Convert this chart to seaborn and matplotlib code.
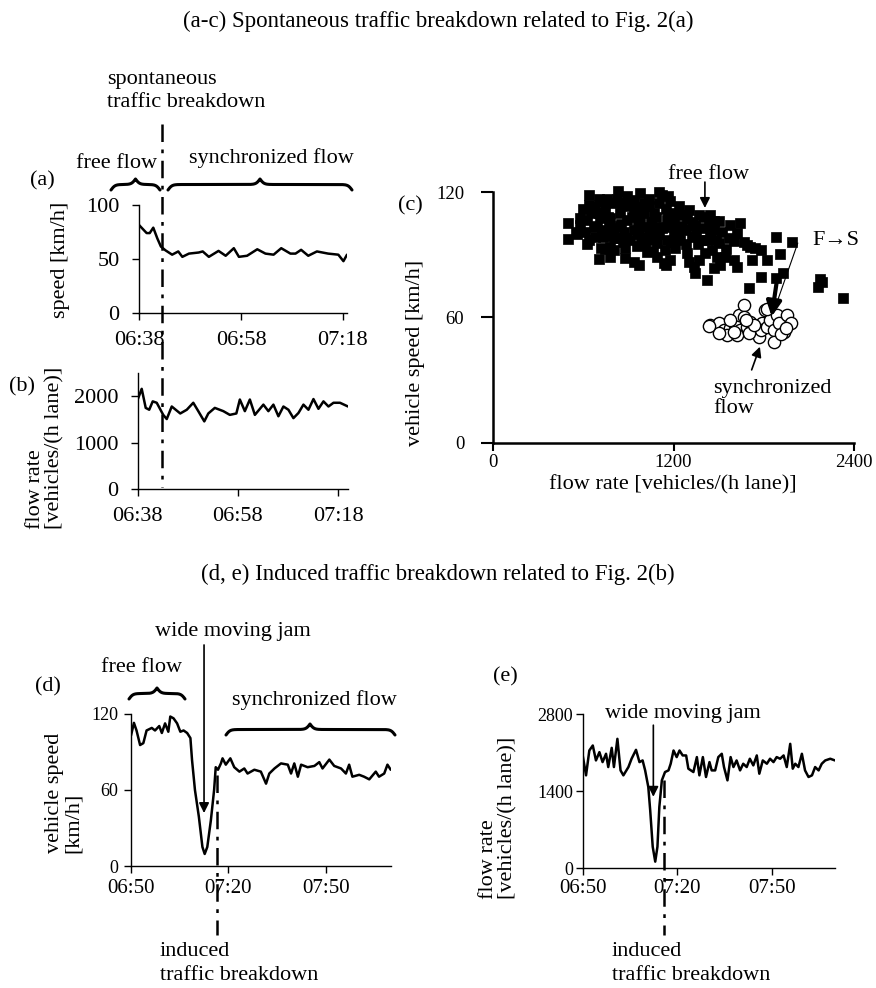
import numpy as np
import matplotlib
matplotlib.use("Agg")
import matplotlib.pyplot as plt
import seaborn as sns
from matplotlib.lines import Line2D
import matplotlib.transforms as mtransforms

# ---------------- data ----------------
# (a) speed, minutes after 06:38
t_a = [0, 1.5, 2.1, 2.8, 3.6, 4.3, 5.2, 6.5, 7.7, 8.5, 9.8, 11.7, 12.5, 13.7, 15.6, 17.0,
       18.6, 19.6, 21.2, 23.2, 24.8, 26.4, 27.9, 29.7, 30.7, 31.8, 33.2, 34.9, 37.1, 39.1, 40.1, 40.8]
v_a = [81.5, 74, 74, 79, 69, 61.5, 58, 54, 57, 52, 55, 56, 57, 52, 57.5, 53,
       60, 52, 53, 59, 55, 54, 60, 55, 55, 58.5, 53, 57, 55, 54, 48, 54]
# (b) flow rate, minutes after 06:38
t_b = [0, 0.8, 1.6, 2.3, 3.0, 3.8, 5.1, 5.8, 6.8, 8.5, 9.8, 11.1, 12.1, 13.3, 14.1, 15.4, 17.1,
       18.4, 19.7, 20.4, 21.4, 22.4, 23.4, 25.1, 26.1, 27.1, 28.1, 29.1, 30.1, 31.1, 32.1, 33.1,
       34.1, 35.1, 36.1, 37.1, 38.1, 39.1, 40.4, 42.0]
q_b = [1930, 2160, 1750, 1710, 1890, 1860, 1600, 1510, 1780, 1630, 1710, 1860, 1680, 1460, 1630, 1750, 1680,
       1600, 1630, 1930, 1680, 1930, 1600, 1820, 1680, 1820, 1570, 1780, 1710, 1530, 1640, 1820,
       1710, 1940, 1730, 1890, 1780, 1860, 1860, 1780]
ticks_ab = [0, 20, 40]
ticklabels_ab = ["06:38", "06:58", "07:18"]
breakdown_a = 4.5

# (c) flow-speed plane
free_flow_pts = [
    (496, 105.2), (496, 97.5), (551, 101), (578, 107.6), (622, 95), (640, 118.8), (700, 116.7),
    (700, 88), (718, 93.5), (778, 89.2), (878, 88.4), (967, 85), (1151, 85.2), (1422, 78),
    (1344, 81.2), (1640, 105.5), (1700, 74), (1778, 79.3), (1878, 78.8), (1884, 98.8), (1989, 96),
    (1907, 90.5), (1927, 81.5), (2173, 78.4), (2189, 77.2), (2160, 74.8), (2329, 69.5), (1822, 87.6),
    (1778, 92.4), (1711, 94), (1622, 100.4), (1667, 96.4), (1722, 87.6), (1600, 87.6), (1544, 89.2),
    (1511, 85.2), (1467, 83.6), (1622, 84.4), (1504, 106.3), (1467, 102), (1500, 95.6), (1456, 92.4),
    (1411, 90.8), (1389, 97.2), (1400, 102.8), (1322, 98.8), (1289, 90.8), (1300, 86.8), (1333, 84.4),
    (1244, 97.2), (1144, 92.4), (1089, 89.2), (1022, 91.6), (956, 94.3), (933, 86.8), (878, 93.2),
    (822, 98), (800, 102.8), (778, 107.6), (744, 112.4), (833, 120.4), (889, 118), (978, 119.6),
    (1033, 113.2), (1122, 118.8), (1178, 115.6), (1200, 110), (1244, 109.2), (1289, 107.6),
    (1367, 109.2), (1444, 109.2), (1344, 104.4), (1156, 97.2), (1133, 103.6), (1067, 103.6),
    (1000, 98.8), (933, 102), (889, 106.8), (844, 110), (933, 111.6), (978, 107.6), (1067, 110),
    (1100, 114.8), (667, 103.6), (622, 106.8), (611, 101), (678, 98.8), (733, 98.8), (778, 94),
    (711, 107.6), (800, 114.8), (856, 114.8), (1156, 106.8), (1200, 101), (1256, 103.6), (1089, 95.6),
    (1011, 94.8), (911, 97.2), (800, 92.4), (1211, 93.2), (1367, 87.6), (1489, 89.2), (1578, 104.4),
    (1567, 98), (1689, 94.8), (1744, 93.2), (1467, 106.3), (1433, 104.4), (1300, 111.6), (1233, 113.2),
    (1033, 116.7), (933, 116.4), (878, 113.2), (1000, 103.6), (767, 103.6), (578, 104.4), (1133, 86),
    (1178, 87.6), (700, 110), (756, 117), (850, 105), (920, 108), (960, 100), (1050, 106), (1100, 100),
    (1180, 105), (1230, 100), (1050, 97), (980, 113), (870, 101), (760, 99), (690, 104), (1350, 100),
    (1420, 97), (1000, 110), (1150, 112), (820, 117), (650, 110), (1280, 95), (1550, 93), (1600, 96.5),
    (560, 100), (600, 112), (640, 97), (680, 113), (720, 102), (760, 108), (800, 98), (840, 104),
    (880, 98), (920, 114), (960, 105), (1000, 115), (1040, 101), (1080, 108), (1120, 103), (1160, 109),
    (1200, 106), (1240, 104), (1280, 102), (1320, 106), (1360, 95), (1400, 108), (1440, 100),
    (1480, 97), (1520, 101), (1060, 92), (1180, 96), (980, 96), (860, 96), (740, 93), (640, 114),
    (720, 116), (1100, 120), (1160, 118),
]
sync_flow_pts = [
    (1444, 56.5), (1500, 57.3), (1533, 54), (1578, 54.9), (1556, 51.7), (1600, 57.3), (1633, 61.2),
    (1667, 66), (1667, 60.4), (1644, 54), (1689, 55.6), (1711, 58), (1744, 53.2), (1767, 50.8),
    (1789, 57.3), (1778, 54), (1811, 63.6), (1822, 55.6), (1844, 58.8), (1867, 54), (1867, 48.4),
    (1889, 61.2), (1900, 57.3), (1500, 52.5), (1622, 51.7), (1700, 52.5), (1733, 56.5), (1578, 58.8),
    (1822, 64), (1956, 61.2), (1982, 57.3), (1933, 53.2), (1433, 56.1), (1911, 52), (1950, 55),
    (1680, 59), (1600, 53),
]
ticks_c_x = [0, 1200, 2400]
ticks_c_y = [0, 60, 120]

# (d) speed, minutes after 06:50
t_d = [0, 0.9, 1.7, 2.8, 3.8, 4.8, 6.4, 7.4, 8.7, 9.5, 10.5, 11.5, 12.1, 13.1, 14.2, 15.2, 16.2,
       17.3, 18.3, 18.8, 19.7, 20.9, 22.0, 22.7, 23.5, 24.6, 25.6, 26.1, 26.8, 27.7, 28.2, 29.2,
       30.6, 31.8, 33.4, 34.9, 35.9, 38.0, 40.0, 41.6, 42.6, 44.2, 46.2, 48.3, 49.3, 50.3, 51.4,
       52.4, 54.4, 56.5, 58.0, 59.0, 61.1, 62.6, 64.7, 66.2, 67.2, 68.2, 70.3, 71.8, 73.4, 75.4,
       76.4, 78.0, 79.0, 80.0]
v_d = [103, 113, 107, 95.5, 97, 107, 109, 107, 110.5, 105, 112.6, 106, 118, 116.6, 112.6, 106, 107,
       105, 101, 83.7, 60, 39, 15, 9.5, 15, 36, 60, 78, 76, 81, 85, 80,
       85, 78, 74.5, 77, 73, 76, 74.5, 65, 73, 77, 81, 80, 73, 81, 70.5,
       80, 78, 79, 82, 77, 84, 79, 77, 73, 80, 70.5, 72, 70.5, 68.4, 74.5,
       70.5, 73, 80, 76]
# (e) flow rate, minutes after 06:50
t_e = [0, 1.06, 2.1, 3.2, 4.2, 5.3, 6.3, 7.4, 8.1, 9.2, 9.9, 11.0, 12.0, 12.9, 14.5, 15.5, 16.9,
       18.0, 19.0, 19.8, 20.8, 21.4, 22.2, 23.0, 23.7, 24.3, 25.1, 26.1, 27.2, 27.9, 28.8, 29.8,
       30.7, 31.7, 32.8, 33.5, 35.1, 36.2, 37.0, 38.1, 39.1, 40.2, 40.9, 42.0, 43.0, 44.1, 44.8,
       45.9, 46.9, 47.8, 48.8, 49.9, 50.9, 52.0, 53.0, 54.1, 55.2, 56.0, 57.1, 58.4, 59.4, 60.5,
       61.5, 62.6, 63.7, 64.7, 65.8, 66.6, 67.4, 68.4, 69.5, 70.5, 71.6, 72.7, 73.7, 74.8, 75.8,
       76.9, 78.5, 80.0]
q_e = [2052, 1690, 2142, 2233, 1961, 2112, 1931, 2082, 1841, 2190, 1841, 2354, 1780, 1690, 1841, 1992, 2154,
       1931, 1961, 1780, 1478, 1056, 392, 121, 392, 1116, 1599, 1750, 1780, 1901, 2142, 2022,
       2142, 2052, 2052, 1811, 1750, 2022, 1690, 2022, 1660, 1931, 1780, 1780, 2022, 2082, 1841,
       1599, 2022, 1841, 1961, 1780, 1901, 1841, 1992, 1871, 2052, 1720, 1961, 1901, 1992, 1931,
       2022, 1992, 2052, 1841, 2263, 1811, 1901, 1841, 2082, 1780, 1660, 1690, 1841, 1780, 1901,
       1961, 1992, 1961]
ticks_de = [0, 30, 60]
ticklabels_de = ["06:50", "07:20", "07:50"]
breakdown_d = 26.4
breakdown_e = 25.9

# ---------------- style ----------------
sns.set_style("ticks", {"axes.edgecolor": "black", "xtick.color": "black", "ytick.color": "black",
                        "text.color": "black", "axes.labelcolor": "black"})
plt.rcParams['font.family'] = ['Liberation Serif', 'DejaVu Serif']

W, H = 876, 988
fig = plt.figure(figsize=(W / 100, H / 100), dpi=100)
FS = 16


def add_ax(left, top, right, bottom):
    return fig.add_axes([left / W, 1 - bottom / H, (right - left) / W, (bottom - top) / H])


def ftext(x, y, s, **kw):
    kw.setdefault("fontsize", FS)
    fig.text(x / W, 1 - y / H, s, **kw)


def brace(x0, x1, y_end, y_tip, xtip=None, lw=2.2, beta=0.5):
    if xtip is None:
        xtip = (x0 + x1) / 2
    h = y_end - y_tip
    xl = np.linspace(x0, xtip, 300)
    fl = 1 / (1 + np.exp(-beta * (xl - x0))) + 1 / (1 + np.exp(-beta * (xl - xtip)))
    xr = np.linspace(xtip, x1, 300)
    fr = 1 / (1 + np.exp(beta * (xr - x1))) + 1 / (1 + np.exp(beta * (xr - xtip)))
    xs = np.concatenate([xl, xr])
    ys = y_end - (np.concatenate([fl, fr]) - 0.5) * h
    fig.add_artist(Line2D(xs / W, 1 - ys / H, color="black", lw=lw, transform=fig.transFigure,
                          solid_capstyle="round"))


def vline(ax, xval, y0, y1):
    tr = mtransforms.blended_transform_factory(ax.transData, fig.transFigure)
    fig.add_artist(Line2D([xval, xval], [1 - y0 / H, 1 - y1 / H], transform=tr, color="black",
                          lw=1.8, linestyle=(0, (7, 3, 1.5, 3))))


def style_ax(ax, lw=1.0, tl=5, tw=1.0, xpad=8, ypad=9, xfs=FS, yfs=FS, xtl=None):
    sns.despine(ax=ax)
    for s in ("left", "bottom"):
        ax.spines[s].set_linewidth(lw)
    ax.tick_params(axis="x", direction="out", length=tl if xtl is None else xtl, width=tw, pad=xpad,
                   labelsize=xfs)
    ax.tick_params(axis="y", direction="out", length=tl, width=tw, pad=ypad, labelsize=yfs)
    ax.set_facecolor("none")


LW = 1.8
arrow_kw = dict(arrowstyle="-|>", color="black", lw=1.2, mutation_scale=15, shrinkA=0, shrinkB=0)

# ---------------- titles ----------------
ftext(438, 21, "(a-c) Spontaneous traffic breakdown related to Fig. 2(a)", ha="center", va="center",
      fontsize=16.5)
ftext(438, 574, "(d, e) Induced traffic breakdown related to Fig. 2(b)", ha="center", va="center",
      fontsize=16.5)

# ---------------- (a) ----------------
ax_a = add_ax(139, 205, 347, 313)
sns.lineplot(x=t_a, y=v_a, ax=ax_a, color="black", linewidth=LW)
ax_a.set_xlim(0, 40.8)
ax_a.set_ylim(0, 100)
ax_a.set_yticks([0, 50, 100])
ax_a.set_xticks(ticks_ab)
ax_a.set_xticklabels(ticklabels_ab)
style_ax(ax_a)
ax_a.set_ylabel("speed [km/h]", fontsize=FS)
ax_a.yaxis.set_label_coords(-0.33, 0.49)

ftext(42, 181, "(a)", ha="center", va="center")
ftext(117, 163, "free flow", ha="center", va="center")
ftext(271, 158, "synchronized flow", ha="center", va="center")
brace(111, 160, 190, 179)
brace(168, 352, 190, 179, xtip=260)
ftext(107, 84, "spontaneous", ha="left", va="baseline")
ftext(107, 107, "traffic breakdown", ha="left", va="baseline")

# ---------------- (b) ----------------
ax_b = add_ax(137.7, 373, 348, 489.3)
sns.lineplot(x=t_b, y=q_b, ax=ax_b, color="black", linewidth=LW)
ax_b.set_xlim(0, 42)
ax_b.set_ylim(0, 2500)
ax_b.set_yticks([0, 1000, 2000])
ax_b.set_xticks(ticks_ab)
ax_b.set_xticklabels(ticklabels_ab)
style_ax(ax_b)
ax_b.set_ylabel("flow rate\n[vehicles/(h lane)]", fontsize=FS, multialignment="left", linespacing=1.0)
ax_b.yaxis.set_label_coords(-0.35, 0.355)
ftext(22, 387, "(b)", ha="center", va="center")

vline(ax_a, breakdown_a, 124, 487)

# ---------------- (c) ----------------
ax_c = add_ax(493.3, 192.3, 854, 442.7)
sns.scatterplot(x=[p[0] for p in free_flow_pts], y=[p[1] for p in free_flow_pts], ax=ax_c,
                marker="s", s=46, color="black", edgecolor="black", linewidth=0.5, clip_on=False)
sns.scatterplot(x=[p[0] for p in sync_flow_pts], y=[p[1] for p in sync_flow_pts], ax=ax_c,
                marker="o", s=78, color="white", edgecolor="black", linewidth=1.0, clip_on=False)
ax_c.set_xlim(0, 2400)
ax_c.set_ylim(0, 120)
ax_c.set_xticks(ticks_c_x)
ax_c.set_yticks(ticks_c_y)
style_ax(ax_c, lw=1.8, tl=9, tw=1.5, xpad=2, ypad=12, xfs=13.5, yfs=13.5, xtl=6)
ax_c.set_ylabel("vehicle speed [km/h]", fontsize=FS)
ax_c.yaxis.set_label_coords(-0.19, 0.36)
ax_c.set_xlabel("flow rate [vehicles/(h lane)]", fontsize=FS)
ax_c.xaxis.set_label_coords(0.498, -0.128)
ftext(410, 206, "(c)", ha="center", va="center")

ax_c.text(1435, 128.3, "free flow", ha="center", va="center", fontsize=FS, clip_on=False)
ax_c.annotate("", xy=(1408, 112.5), xytext=(1408, 124.9), arrowprops=arrow_kw, annotation_clip=False)
ax_c.text(2280, 96.7, "F\u2192S", ha="center", va="center", fontsize=FS, clip_on=False)
ax_c.annotate("", xy=(1893, 68.4), xytext=(2026, 95.7),
              arrowprops=dict(arrowstyle="-", color="black", lw=0.8, shrinkA=0, shrinkB=0),
              annotation_clip=False)
ax_c.annotate("", xy=(1852, 60.4), xytext=(1886, 77.2),
              arrowprops=dict(arrowstyle="-|>", color="black", lw=3, mutation_scale=22, shrinkA=0, shrinkB=0),
              annotation_clip=False)
ax_c.text(1461, 30.5, "synchronized\nflow", ha="left", va="top", fontsize=FS, linespacing=1.1)
ax_c.annotate("", xy=(1774, 46), xytext=(1719, 34.9), arrowprops=arrow_kw, annotation_clip=False)

# ---------------- (d) ----------------
ax_d = add_ax(131, 714, 390.7, 866)
sns.lineplot(x=t_d, y=v_d, ax=ax_d, color="black", linewidth=LW)
ax_d.set_xlim(0, 80)
ax_d.set_ylim(0, 120)
ax_d.set_yticks([0, 60, 120])
ax_d.set_xticks(ticks_de)
ax_d.set_xticklabels(ticklabels_de)
style_ax(ax_d, xpad=4, ypad=4, xfs=15, yfs=13)
ax_d.set_ylabel("vehicle speed\n[km/h]", fontsize=FS, multialignment="left", linespacing=1.0)
ax_d.yaxis.set_label_coords(-0.185, 0.48)
ftext(48, 687, "(d)", ha="center", va="center")
ftext(142, 667, "free flow", ha="center", va="center")
brace(129, 185, 699, 688, xtip=157)
ftext(314, 700, "synchronized flow", ha="center", va="center")
brace(226, 395, 735, 724, xtip=310)
ax_d.text(31.4, 185.5, "wide moving jam", ha="center", va="center", fontsize=FS, clip_on=False)
ax_d.annotate("", xy=(22.5, 41.8), xytext=(22.5, 174.5), arrowprops=arrow_kw, annotation_clip=False)
vline(ax_d, breakdown_d, 775, 935)
ftext(160, 956, "induced", ha="left", va="baseline")
ftext(160, 980, "traffic breakdown", ha="left", va="baseline")

# ---------------- (e) ----------------
ax_e = add_ax(582.7, 714.3, 835, 868.3)
sns.lineplot(x=t_e, y=q_e, ax=ax_e, color="black", linewidth=LW)
ax_e.set_xlim(0, 80)
ax_e.set_ylim(0, 2800)
ax_e.set_yticks([0, 1400, 2800])
ax_e.set_xticks(ticks_de)
ax_e.set_xticklabels(ticklabels_de)
style_ax(ax_e, xpad=3, ypad=2, xfs=15, yfs=13)
ax_e.set_ylabel("flow rate\n[vehicles/(h lane)]", fontsize=FS, multialignment="left", linespacing=1.0)
ax_e.yaxis.set_label_coords(-0.26, 0.327)
ftext(505, 677, "(e)", ha="center", va="center")
ax_e.text(31.8, 2820, "wide moving jam", ha="center", va="center", fontsize=FS, clip_on=False)
ax_e.annotate("", xy=(22.4, 1300), xytext=(22.4, 2602), arrowprops=arrow_kw, annotation_clip=False)
vline(ax_e, breakdown_e, 780, 935)
ftext(612, 956, "induced", ha="left", va="baseline")
ftext(612, 980, "traffic breakdown", ha="left", va="baseline")

fig.savefig("out.png", dpi=100)
